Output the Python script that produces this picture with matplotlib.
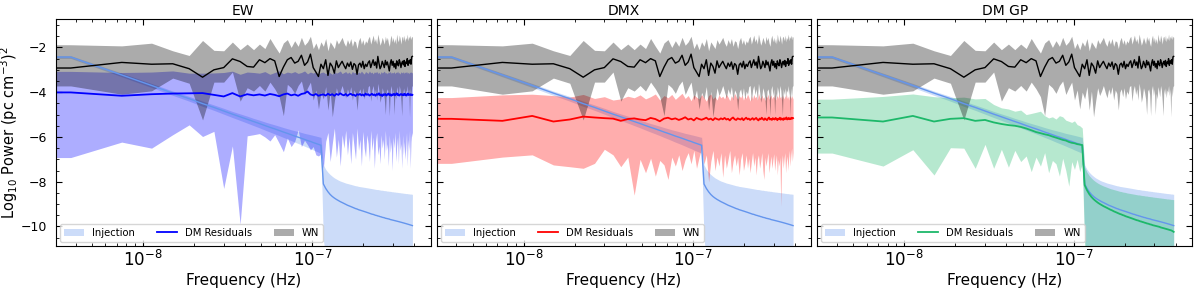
import numpy as np
import matplotlib
matplotlib.use("Agg")
import matplotlib.pyplot as plt
from matplotlib.ticker import LogLocator, MultipleLocator, NullFormatter

# ---------------- frequency grid ----------------
T_SPAN = 1.0 / 3.75e-9          # s  (f_k = k / T)
N_FREQ = 104
F_FLOOR = 3.07e-9               # left edge of the plotted spectra
freq_k = np.arange(1, N_FREQ + 1) / T_SPAN

panel_titles = ["EW", "DMX", "DM GP"]
panel_colors = ["#0000ff", "#ff0000", "#1db86a"]

# ---------------- injection (shared) ----------------
inj_med = [-2.43, -3.23, -3.70, -4.04, -4.29, -4.51, -4.68, -4.84, -4.98, -5.10,
           -5.21, -5.31, -5.40, -5.49, -5.57, -5.64, -5.71, -5.78, -5.84, -5.90,
           -5.96, -6.01, -6.06, -6.11, -6.16, -6.20, -6.25, -6.29, -6.33, -6.37,
           -8.10, -8.30, -8.45, -8.57, -8.66, -8.73, -8.79, -8.84, -8.89, -8.93,
           -8.97, -9.01, -9.05, -9.08, -9.11, -9.14, -9.17, -9.20, -9.22, -9.25,
           -9.27, -9.29, -9.31, -9.33, -9.35, -9.37, -9.39, -9.41, -9.43, -9.45,
           -9.46, -9.48, -9.50, -9.51, -9.53, -9.54, -9.56, -9.57, -9.59, -9.60,
           -9.61, -9.63, -9.64, -9.65, -9.66, -9.67, -9.69, -9.70, -9.71, -9.72,
           -9.73, -9.74, -9.75, -9.76, -9.77, -9.78, -9.79, -9.80, -9.81, -9.82,
           -9.83, -9.84, -9.85, -9.86, -9.87, -9.88, -9.89, -9.90, -9.91, -9.92,
           -9.93, -9.94, -9.95, -9.96]
inj_hi = [-2.37, -3.15, -3.61, -3.95, -4.19, -4.40, -4.57, -4.72, -4.86, -4.97,
          -5.07, -5.17, -5.25, -5.33, -5.40, -5.46, -5.52, -5.58, -5.63, -5.68,
          -5.72, -5.76, -5.80, -5.84, -5.87, -5.90, -5.93, -5.96, -5.99, -6.02,
          -7.25, -7.45, -7.58, -7.68, -7.76, -7.83, -7.88, -7.93, -7.97, -8.00,
          -8.03, -8.06, -8.08, -8.10, -8.12, -8.14, -8.16, -8.18, -8.19, -8.21,
          -8.22, -8.23, -8.24, -8.25, -8.26, -8.27, -8.28, -8.29, -8.30, -8.31,
          -8.32, -8.33, -8.34, -8.35, -8.35, -8.36, -8.37, -8.38, -8.38, -8.39,
          -8.40, -8.40, -8.41, -8.42, -8.42, -8.43, -8.43, -8.44, -8.45, -8.45,
          -8.46, -8.46, -8.47, -8.47, -8.48, -8.48, -8.49, -8.49, -8.50, -8.50,
          -8.51, -8.51, -8.52, -8.52, -8.53, -8.53, -8.53, -8.54, -8.54, -8.55,
          -8.55, -8.55, -8.56, -8.56]
inj_lo = [-2.49, -3.31, -3.79, -4.14, -4.40, -4.63, -4.81, -4.98, -5.13, -5.26,
          -5.38, -5.49, -5.59, -5.69, -5.78, -5.86, -5.94, -6.02, -6.09, -6.16,
          -6.23, -6.29, -6.35, -6.41, -6.47, -6.52, -6.58, -6.63, -6.68, -6.73,
          -10.6, -11.3, -10.8, -11.6, -12.4, -12.8, -13.0, -13.2, -13.3, -13.4,
          -13.5, -13.5, -13.6, -13.6, -13.7, -13.7, -13.8, -13.8, -13.8, -13.9,
          -13.9, -13.9, -14.0, -14.0, -14.0, -14.0, -14.1, -14.1, -14.1, -14.1,
          -14.2, -14.2, -14.2, -14.2, -14.2, -14.3, -14.3, -14.3, -14.3, -14.3,
          -14.3, -14.4, -14.4, -14.4, -14.4, -14.4, -14.4, -14.4, -14.5, -14.5,
          -14.5, -14.5, -14.5, -14.5, -14.5, -14.5, -14.6, -14.6, -14.6, -14.6,
          -14.6, -14.6, -14.6, -14.6, -14.6, -14.7, -14.7, -14.7, -14.7, -14.7,
          -14.7, -14.7, -14.7, -14.7]

# ---------------- white noise (shared) ----------------
wn_med = [-2.92, -2.67, -2.75, -2.73, -2.95, -3.33, -3.00, -2.90, -2.51, -2.63,
          -2.85, -2.88, -2.55, -2.68, -2.50, -2.60, -3.30, -2.88, -2.55, -2.45,
          -2.70, -2.62, -2.35, -2.80, -2.65, -2.30, -2.90, -3.10, -3.30, -2.75,
          -2.95, -2.55, -3.25, -2.70, -2.85, -3.15, -2.60, -2.90, -2.75, -2.62,
          -2.80, -2.95, -2.70, -2.85, -2.65, -2.98, -2.72, -2.80, -3.20, -2.78,
          -2.70, -2.88, -2.62, -2.95, -2.75, -2.85, -2.68, -2.60, -2.90, -2.72,
          -2.55, -2.80, -2.65, -2.92, -2.40, -2.70, -2.95, -2.85, -2.62, -2.75,
          -2.90, -2.58, -2.78, -2.65, -2.85, -3.05, -2.70, -2.55, -2.80, -2.62,
          -2.88, -2.72, -2.95, -2.60, -2.75, -2.82, -2.55, -2.68, -2.90, -2.70,
          -2.62, -2.78, -2.58, -2.85, -2.65, -2.72, -2.50, -2.80, -2.60, -2.70,
          -2.55, -2.75, -2.42, -2.40]
wn_hi = [-1.88, -1.93, -1.81, -2.15, -2.36, -1.69, -2.13, -2.15, -1.76, -2.10,
         -1.85, -2.10, -1.85, -2.05, -1.60, -1.95, -2.25, -1.80, -1.65, -2.00,
         -1.70, -1.95, -1.55, -1.90, -1.75, -1.50, -2.05, -1.80, -2.10, -1.75,
         -1.95, -1.60, -2.15, -1.75, -1.90, -2.05, -1.65, -1.85, -1.70, -1.55,
         -1.80, -1.95, -1.65, -1.85, -1.60, -1.95, -1.70, -1.75, -2.05, -1.70,
         -1.55, -1.85, -1.65, -1.90, -1.70, -1.80, -1.60, -1.50, -1.85, -1.65,
         -1.45, -1.75, -1.60, -1.85, -1.40, -1.65, -1.90, -1.75, -1.55, -1.70,
         -1.85, -1.50, -1.70, -1.55, -1.80, -1.95, -1.60, -1.45, -1.75, -1.55,
         -1.80, -1.60, -1.85, -1.40, -1.65, -1.75, -1.45, -1.60, -1.85, -1.55,
         -1.50, -1.70, -1.45, -1.75, -1.55, -1.65, -1.40, -1.70, -1.50, -1.60,
         -1.45, -1.65, -1.50, -1.55]
wn_lo = [-3.72, -4.09, -3.94, -3.37, -3.60, -5.24, -3.55, -3.55, -3.10, -4.40,
         -3.80, -3.95, -3.70, -3.95, -3.55, -3.85, -4.20, -5.05, -3.65, -3.80,
         -4.05, -3.70, -3.50, -4.10, -3.80, -3.55, -4.35, -3.90, -4.75, -4.00,
         -4.30, -3.75, -4.80, -3.95, -5.10, -4.40, -3.80, -4.15, -3.95, -3.70,
         -4.00, -4.25, -3.85, -4.10, -3.75, -4.35, -3.90, -4.05, -4.80, -4.00,
         -3.85, -4.20, -3.80, -4.30, -3.95, -4.10, -3.75, -3.70, -4.40, -3.90,
         -3.70, -4.10, -3.85, -4.35, -3.60, -3.95, -4.45, -4.20, -3.80, -4.00,
         -4.30, -5.00, -3.95, -3.85, -4.10, -5.05, -3.90, -3.70, -4.15, -3.85,
         -5.00, -4.05, -4.30, -3.75, -3.95, -4.20, -3.70, -3.90, -4.40, -5.05,
         -3.85, -4.10, -3.80, -4.25, -3.90, -4.00, -3.70, -4.15, -3.85, -5.10,
         -3.80, -4.20, -3.75, -3.70]

# ---------------- EW DM residuals ----------------
ew_med = [-4.01, -4.16, -4.09, -4.06, -4.05, -4.04, -4.12, -4.19, -4.04, -4.19,
          -4.09, -4.14, -4.10, -4.15, -4.08, -4.12, -4.18, -4.10, -4.06, -4.14,
          -4.10, -4.16, -4.08, -4.05, -3.97, -4.10, -4.14, -4.08, -4.16, -4.12,
          -4.10, -4.15, -4.07, -4.13, -4.09, -4.16, -4.08, -4.12, -4.05, -4.11,
          -4.14, -4.08, -4.16, -4.10, -4.07, -4.13, -4.11, -4.17, -4.09, -4.12,
          -4.08, -4.14, -4.10, -4.16, -4.06, -4.12, -4.09, -4.15, -4.11, -4.07,
          -4.13, -4.10, -4.16, -4.08, -4.12, -4.05, -4.14, -4.10, -4.17, -4.09,
          -4.12, -4.08, -4.15, -4.11, -4.06, -4.13, -4.09, -4.16, -4.10, -4.12,
          -4.07, -4.14, -4.10, -4.05, -4.13, -4.09, -4.15, -4.11, -4.08, -4.12,
          -4.10, -4.14, -4.07, -4.12, -4.09, -4.15, -4.10, -4.06, -4.13, -4.11,
          -4.09, -4.13, -4.10, -4.12]
ew_hi = [-3.07, -3.12, -3.10, -3.05, -3.15, -3.15, -3.14, -3.12, -3.06, -3.20,
         -3.10, -3.12, -3.15, -3.08, -3.20, -3.12, -3.05, -3.18, -3.10, -3.14,
         -3.08, -3.16, -3.12, -3.05, -3.18, -3.10, -3.15, -3.08, -3.20, -3.12,
         -3.10, -3.18, -3.06, -3.14, -3.20, -3.08, -3.15, -3.11, -3.05, -3.17,
         -3.12, -3.08, -3.16, -3.10, -3.20, -3.07, -3.14, -3.11, -3.18, -3.09,
         -3.15, -3.06, -3.13, -3.19, -3.08, -3.12, -3.16, -3.05, -3.14, -3.10,
         -3.18, -3.09, -3.13, -3.07, -3.16, -3.11, -3.20, -3.08, -3.14, -3.10,
         -3.06, -3.15, -3.12, -3.18, -3.09, -3.13, -3.07, -3.16, -3.11, -3.14,
         -3.08, -3.17, -3.10, -3.13, -3.06, -3.15, -3.12, -3.19, -3.09, -3.12,
         -3.14, -3.08, -3.16, -3.10, -3.13, -3.07, -3.15, -3.11, -3.18, -3.10,
         -3.12, -3.09, -3.14, -3.11]
ew_lo = [-6.92, -6.23, -6.50, -5.90, -5.46, -5.98, -5.75, -8.30, -6.40, -9.90,
         -5.95, -5.90, -5.85, -6.00, -6.18, -5.90, -6.28, -6.66, -6.05, -6.43,
         -6.20, -5.69, -6.43, -6.15, -6.35, -6.58, -6.43, -6.80, -6.85, -6.75,
         -7.40, -6.20, -5.80, -7.10, -6.30, -5.60, -6.90, -6.10, -7.30, -5.90,
         -6.50, -5.70, -6.80, -6.00, -7.20, -5.80, -6.40, -7.00, -5.60, -6.60,
         -6.10, -7.30, -5.75, -6.50, -6.90, -5.90, -6.30, -7.10, -5.70, -6.60,
         -6.00, -7.40, -6.20, -5.80, -6.80, -6.40, -7.20, -5.90, -6.50, -6.10,
         -7.00, -5.70, -6.60, -6.30, -7.30, -5.90, -6.70, -6.20, -7.50, -6.00,
         -6.50, -5.80, -7.10, -6.40, -6.00, -7.20, -5.70, -6.60, -6.30, -7.40,
         -5.90, -6.80, -6.20, -7.00, -6.50, -5.80, -7.30, -6.10, -6.60, -5.70,
         -7.40, -6.20, -5.80, -6.00]

# ---------------- DMX DM residuals ----------------
dmx_med = [-5.19, -5.28, -5.06, -5.31, -5.22, -5.09, -5.13, -5.16, -5.18, -5.28,
           -5.20, -5.17, -5.22, -5.25, -5.15, -5.20, -5.30, -5.18, -5.14, -5.21,
           -5.17, -5.24, -5.19, -5.12, -5.22, -5.18, -5.26, -5.15, -5.20, -5.23,
           -5.19, -5.14, -5.22, -5.18, -5.25, -5.16, -5.20, -5.23, -5.17, -5.21,
           -5.15, -5.22, -5.19, -5.26, -5.18, -5.13, -5.21, -5.24, -5.17, -5.20,
           -5.22, -5.16, -5.25, -5.19, -5.14, -5.21, -5.18, -5.24, -5.20, -5.16,
           -5.23, -5.19, -5.15, -5.22, -5.26, -5.18, -5.21, -5.14, -5.20, -5.24,
           -5.17, -5.21, -5.25, -5.18, -5.13, -5.22, -5.19, -5.24, -5.16, -5.20,
           -5.22, -5.15, -5.19, -5.25, -5.18, -5.21, -5.14, -5.23, -5.17, -5.20,
           -5.24, -5.16, -5.21, -5.18, -5.13, -5.22, -5.19, -5.15, -5.21, -5.17,
           -5.20, -5.14, -5.18, -5.16]
dmx_hi = [-4.24, -4.12, -4.09, -4.15, -4.22, -4.10, -4.28, -4.20, -4.35, -4.30,
          -4.18, -4.25, -4.12, -4.30, -4.20, -4.08, -4.35, -4.15, -4.25, -4.10,
          -4.32, -4.18, -4.05, -4.28, -4.15, -4.38, -4.12, -4.22, -4.30, -4.10,
          -4.25, -4.40, -4.15, -4.08, -4.30, -4.20, -4.35, -4.12, -4.25, -4.18,
          -4.30, -4.10, -4.22, -4.38, -4.15, -4.28, -4.05, -4.20, -4.32, -4.15,
          -4.25, -4.12, -4.35, -4.18, -4.28, -4.08, -4.22, -4.40, -4.15, -4.30,
          -4.10, -4.25, -4.18, -4.35, -4.05, -4.22, -4.30, -4.12, -4.28, -4.20,
          -4.38, -4.15, -4.25, -4.08, -4.32, -4.20, -4.12, -4.30, -4.18, -4.25,
          -4.10, -4.35, -4.22, -4.15, -4.28, -4.05, -4.25, -4.18, -4.32, -4.12,
          -4.22, -4.30, -4.15, -4.25, -4.08, -4.28, -4.18, -4.35, -4.12, -4.20,
          -4.28, -4.15, -4.22, -4.30]
dmx_lo = [-7.18, -6.90, -6.80, -7.25, -7.33, -7.40, -7.18, -6.55, -6.80, -7.33,
          -6.90, -8.60, -7.00, -7.60, -6.95, -7.75, -7.05, -7.25, -7.90, -6.90,
          -7.30, -6.80, -7.50, -7.00, -6.70, -7.20, -6.60, -7.40, -6.90, -6.50,
          -7.20, -6.80, -8.00, -7.10, -6.60, -7.50, -6.90, -7.30, -6.70, -7.80,
          -6.80, -7.40, -7.00, -6.60, -7.60, -7.10, -6.80, -7.30, -6.90, -7.70,
          -7.00, -6.70, -7.50, -7.20, -6.80, -7.40, -6.95, -7.60, -7.10, -6.70,
          -7.30, -6.90, -7.70, -7.00, -6.80, -7.40, -7.10, -6.70, -7.50, -7.90,
          -6.90, -7.30, -7.00, -6.70, -7.60, -7.20, -6.85, -7.40, -7.05, -6.75,
          -7.50, -7.10, -6.80, -7.70, -7.00, -7.30, -6.90, -9.10, -7.20, -6.80,
          -7.40, -7.00, -6.70, -7.60, -7.10, -6.85, -7.50, -6.95, -6.60, -7.30,
          -6.80, -6.50, -7.10, -6.70]

# ---------------- DM GP residuals ----------------
gp_med = [-5.13, -5.31, -5.06, -5.31, -5.19, -5.16, -5.28, -5.24, -5.35, -5.42,
          -5.47, -5.50, -5.55, -5.62, -5.70, -5.78, -5.83, -5.88, -5.92, -5.98,
          -6.03, -6.08, -6.13, -6.16, -6.22, -6.26, -6.28, -6.32, -6.34, -6.36,
          -8.15, -8.38, -8.55, -8.68, -8.78, -8.86, -8.93, -8.99, -9.04, -9.09,
          -9.13, -9.17, -9.21, -9.25, -9.28, -9.32, -9.35, -9.38, -9.41, -9.44,
          -9.46, -9.49, -9.51, -9.54, -9.56, -9.58, -9.60, -9.62, -9.64, -9.66,
          -9.68, -9.70, -9.72, -9.73, -9.75, -9.77, -9.78, -9.80, -9.81, -9.83,
          -9.84, -9.86, -9.87, -9.88, -9.90, -9.91, -9.92, -9.94, -9.95, -9.96,
          -9.97, -9.98, -9.99, -10.00, -10.01, -10.02, -10.04, -10.05, -10.06, -10.07,
          -10.08, -10.09, -10.10, -10.11, -10.12, -10.13, -10.14, -10.15, -10.16, -10.17,
          -10.18, -10.20, -10.22, -10.24]
gp_hi = [-4.31, -4.19, -4.08, -4.20, -4.25, -4.22, -4.30, -4.28, -4.55, -4.70,
         -4.75, -4.85, -4.80, -5.00, -4.95, -4.90, -4.85, -5.05, -5.15, -5.10,
         -5.20, -5.05, -5.10, -5.25, -5.30, -5.35, -5.28, -5.45, -5.50, -5.60,
         -7.35, -7.58, -7.73, -7.84, -7.93, -8.00, -8.06, -8.11, -8.15, -8.19,
         -8.22, -8.25, -8.28, -8.31, -8.33, -8.35, -8.37, -8.39, -8.41, -8.43,
         -8.44, -8.46, -8.47, -8.48, -8.50, -8.51, -8.52, -8.53, -8.54, -8.55,
         -8.56, -8.57, -8.58, -8.59, -8.59, -8.60, -8.61, -8.62, -8.62, -8.63,
         -8.64, -8.64, -8.65, -8.66, -8.66, -8.67, -8.67, -8.68, -8.69, -8.69,
         -8.70, -8.70, -8.71, -8.71, -8.72, -8.72, -8.73, -8.73, -8.74, -8.74,
         -8.75, -8.75, -8.76, -8.76, -8.77, -8.77, -8.77, -8.78, -8.78, -8.79,
         -8.79, -8.79, -8.80, -8.80]
gp_lo = [-6.72, -7.30, -6.57, -7.70, -6.48, -6.50, -7.40, -6.33, -7.40, -6.55,
         -7.35, -6.60, -7.10, -6.85, -7.55, -6.90, -7.30, -6.70, -7.60, -7.05,
         -7.20, -7.75, -6.95, -7.50, -8.20, -7.10, -7.45, -7.00, -7.55, -7.20,
         -10.9, -11.5, -11.0, -12.0, -12.6, -13.0, -13.2, -13.4, -13.5, -13.6,
         -13.7, -13.7, -13.8, -13.8, -13.9, -13.9, -14.0, -14.0, -14.0, -14.1,
         -14.1, -14.1, -14.2, -14.2, -14.2, -14.2, -14.3, -14.3, -14.3, -14.3,
         -14.4, -14.4, -14.4, -14.4, -14.4, -14.5, -14.5, -14.5, -14.5, -14.5,
         -14.5, -14.6, -14.6, -14.6, -14.6, -14.6, -14.6, -14.6, -14.7, -14.7,
         -14.7, -14.7, -14.7, -14.7, -14.7, -14.7, -14.8, -14.8, -14.8, -14.8,
         -14.8, -14.8, -14.8, -14.8, -14.8, -14.9, -14.9, -14.9, -14.9, -14.9,
         -14.9, -14.9, -14.9, -14.9]

residuals = [(ew_med, ew_lo, ew_hi), (dmx_med, dmx_lo, dmx_hi), (gp_med, gp_lo, gp_hi)]

XLIM = (3.07e-9, 5.0e-7)
YLIM = (-10.87, -0.73)


def extend(a):
    """Carry the lowest-frequency value to the left edge of the plot."""
    a = np.asarray(a, dtype=float)
    return np.concatenate([[a[0]], a])


freqs = np.concatenate([[F_FLOOR], freq_k])

fig, axes = plt.subplots(1, 3, figsize=(12, 2.88), dpi=100, sharey=True)
fig.subplots_adjust(left=0.0467, right=0.9933, bottom=0.146, top=0.934, wspace=0.016)

inj_c = "cornflowerblue"
for ax, title, col, (med, lo, hi) in zip(axes, panel_titles, panel_colors, residuals):
    h_inj = ax.fill_between(freqs, extend(inj_lo), extend(inj_hi), color=inj_c,
                            alpha=0.33, lw=0, label="Injection")
    ax.plot(freqs, extend(inj_med), color=inj_c, lw=1.0)
    ax.fill_between(freqs, extend(lo), extend(hi), color=col, alpha=0.32, lw=0)
    h_dm, = ax.plot(freqs, extend(med), color=col, lw=1.3, label="DM Residuals")
    h_wn = ax.fill_between(freqs, extend(wn_lo), extend(wn_hi), color="black",
                           alpha=0.33, lw=0, label="WN")
    ax.plot(freqs, extend(wn_med), color="black", lw=1.0)

    ax.set_xscale("log")
    ax.set_xlim(*XLIM)
    ax.set_ylim(*YLIM)
    ax.set_title(title, fontsize=10, pad=3)
    ax.set_xlabel("Frequency (Hz)", fontsize=11, labelpad=2)
    ax.yaxis.set_major_locator(MultipleLocator(2))
    ax.yaxis.set_minor_locator(MultipleLocator(0.5))
    ax.xaxis.set_major_locator(LogLocator(base=10, numticks=10))
    ax.xaxis.set_minor_locator(LogLocator(base=10, subs=np.arange(2, 10), numticks=20))
    ax.xaxis.set_minor_formatter(NullFormatter())
    ax.tick_params(which="both", direction="in", top=True, right=True)
    ax.tick_params(which="major", length=4, width=0.8)
    ax.tick_params(which="minor", length=2.2, width=0.6)
    ax.tick_params(axis="x", which="major", labelsize=12, pad=3)
    ax.tick_params(axis="y", which="major", labelsize=9, pad=6.5)
    for s in ax.spines.values():
        s.set_linewidth(0.8)
    ax.legend(handles=[h_inj, h_dm, h_wn], loc="lower left", ncol=3,
              fontsize=7.2, framealpha=0.8, borderaxespad=0.4,
              handlelength=2.0, columnspacing=2.2)

axes[0].set_ylabel("Log$_{10}$ Power (pc cm$^{-3}$)$^2$", fontsize=10.5, labelpad=0)
axes[0].yaxis.set_label_coords(-0.096, 0.5)

fig.savefig("out.png", dpi=100)
